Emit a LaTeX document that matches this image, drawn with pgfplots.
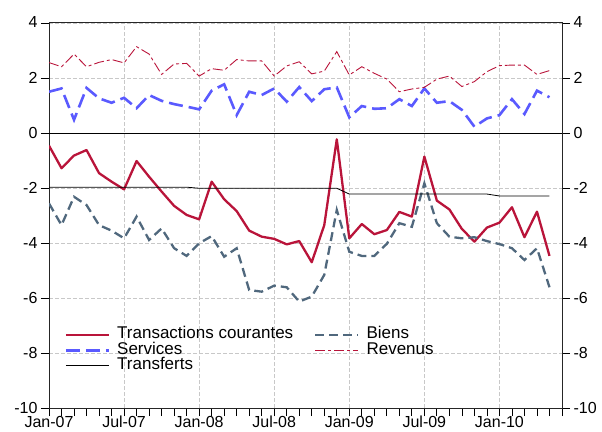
\documentclass[border=0pt]{standalone}
\usepackage{fontspec}
\setmainfont{Liberation Sans}
\usepackage{pgfplots}
\usepackage{pgfplotstable}
\pgfplotsset{compat=1.18}
\definecolor{tc}{RGB}{185,20,58}
\definecolor{biens}{RGB}{80,104,125}
\definecolor{serv}{RGB}{90,90,255}
\definecolor{gridc}{RGB}{200,200,200}

\pgfplotstableread{
m tc biens serv rev transf
0 -0.46 -2.56 1.50 2.56 -1.97
1 -1.28 -3.35 1.62 2.41 -1.97
2 -0.82 -2.32 0.48 2.87 -1.97
3 -0.62 -2.62 1.64 2.41 -1.97
4 -1.46 -3.35 1.26 2.57 -1.97
5 -1.77 -3.55 1.10 2.67 -1.97
6 -2.05 -3.83 1.28 2.55 -1.97
7 -1.02 -3.04 0.90 3.14 -1.97
8 -1.59 -3.89 1.38 2.87 -1.97
9 -2.13 -3.47 1.17 2.13 -1.97
10 -2.65 -4.19 1.05 2.51 -1.97
11 -2.98 -4.47 0.96 2.53 -1.97
12 -3.14 -4.01 0.86 2.07 -2.01
13 -1.77 -3.75 1.54 2.34 -2.01
14 -2.41 -4.50 1.77 2.28 -2.01
15 -2.84 -4.19 0.65 2.67 -2.01
16 -3.55 -5.71 1.50 2.62 -2.01
17 -3.77 -5.77 1.38 2.62 -2.01
18 -3.85 -5.55 1.62 2.07 -2.01
19 -4.05 -5.61 1.14 2.44 -2.01
20 -3.93 -6.13 1.67 2.59 -2.01
21 -4.70 -5.95 1.16 2.15 -2.01
22 -3.35 -5.16 1.59 2.25 -2.01
23 -0.23 -2.80 1.66 2.96 -2.01
24 -3.83 -4.32 0.57 2.11 -2.22
25 -3.31 -4.47 0.98 2.41 -2.22
26 -3.68 -4.47 0.88 2.17 -2.22
27 -3.53 -4.03 0.90 1.96 -2.22
28 -2.87 -3.28 1.23 1.50 -2.22
29 -3.04 -3.41 0.98 1.60 -2.22
30 -0.86 -1.83 1.62 1.66 -2.22
31 -2.46 -3.28 1.10 1.96 -2.22
32 -2.78 -3.77 1.16 2.07 -2.22
33 -3.49 -3.83 0.84 1.69 -2.22
34 -3.95 -3.79 0.23 1.87 -2.22
35 -3.44 -3.93 0.53 2.23 -2.22
36 -3.26 -4.04 0.65 2.45 -2.29
37 -2.70 -4.19 1.23 2.47 -2.29
38 -3.79 -4.62 0.69 2.47 -2.29
39 -2.86 -4.19 1.54 2.13 -2.29
40 -4.47 -5.61 1.30 2.27 -2.29
}\data

\begin{document}
\begin{tikzpicture}
\path[use as bounding box] (-49pt,-23pt) rectangle (553pt,408pt);
\begin{axis}[
  at={(0,0)}, anchor=south west,
  scale only axis, width=513pt, height=385pt,
  xmin=0, xmax=41, ymin=-10, ymax=4,
  xtick={0,6,...,36},
  xticklabels={Jan-07,Jul-07,Jan-08,Jul-08,Jan-09,Jul-09,Jan-10},
  minor xtick={0,...,41},
  ytick={-10,-8,...,4},
  xtick pos=bottom, ytick pos=both,
  tick align=outside, major tick length=8pt, minor tick length=8pt,
  every tick/.style={black, line width=0.8pt},
  axis line style={black!85, line width=1pt},
  xmajorgrids, ymajorgrids,
  major grid style={gridc, line width=0.9pt, dash pattern=on 4pt off 2pt},
  ticklabel style={font=\fontsize{16}{18}\selectfont},
  /pgf/number format/assume math mode=true,
  xticklabel style={yshift=3.5pt},
  yticklabel style={yshift=0.5pt},
  legend columns=2,
  legend cell align=left,
  legend style={draw=none, fill=none, at={(0.03,0.21)}, anchor=north west,
    font=\fontsize{17}{17}\selectfont, inner sep=0pt, row sep=0.5pt,
    nodes={inner sep=0pt, text height=11.5pt, text depth=3.5pt},
    /tikz/every odd column/.append style={column sep=7pt},
    /tikz/every even column/.append style={column sep=21pt}},
  legend image code/.code={\draw[#1] (0pt,0pt) -- (43pt,0pt);},
]
\addplot[black, line width=0.9pt, forget plot] coordinates {(0,0) (41,0)};
\addplot[tc, line width=2.3pt, line join=round] table[x=m, y=tc] {\data};
\addlegendentry{Transactions courantes}
\addplot[biens, line width=2.3pt, dash pattern=on 9pt off 5pt] table[x=m, y=biens] {\data};
\addlegendentry{Biens}
\addplot[serv, line width=2.6pt, dash pattern=on 14pt off 6pt] table[x=m, y=serv] {\data};
\addlegendentry{Services}
\addplot[tc, line width=0.9pt, dash pattern=on 10pt off 3pt on 3pt off 3pt] table[x=m, y=rev] {\data};
\addlegendentry{Revenus}
\addplot[black, line width=0.8pt] table[x=m, y=transf] {\data};
\addlegendentry{Transferts}
\draw[black!85, line width=1pt] (rel axis cs:0,1) -- (rel axis cs:1,1);
\end{axis}
\begin{axis}[
  at={(0,0)}, anchor=south west,
  scale only axis, width=513pt, height=385pt,
  xmin=0, xmax=41, ymin=-10, ymax=4,
  axis x line=none, axis y line*=right,
  y axis line style={draw=none},
  ytick={-10,-8,...,4},
  ytick pos=right, yticklabel pos=right,
  tick align=outside, major tick length=8pt,
  every tick/.style={draw=none},
  ticklabel style={font=\fontsize{16}{18}\selectfont},
  yticklabel style={yshift=0.5pt},
  /pgf/number format/assume math mode=true,
]
\addplot[draw=none] coordinates {(0,0)};
\end{axis}
\end{tikzpicture}
\end{document}
